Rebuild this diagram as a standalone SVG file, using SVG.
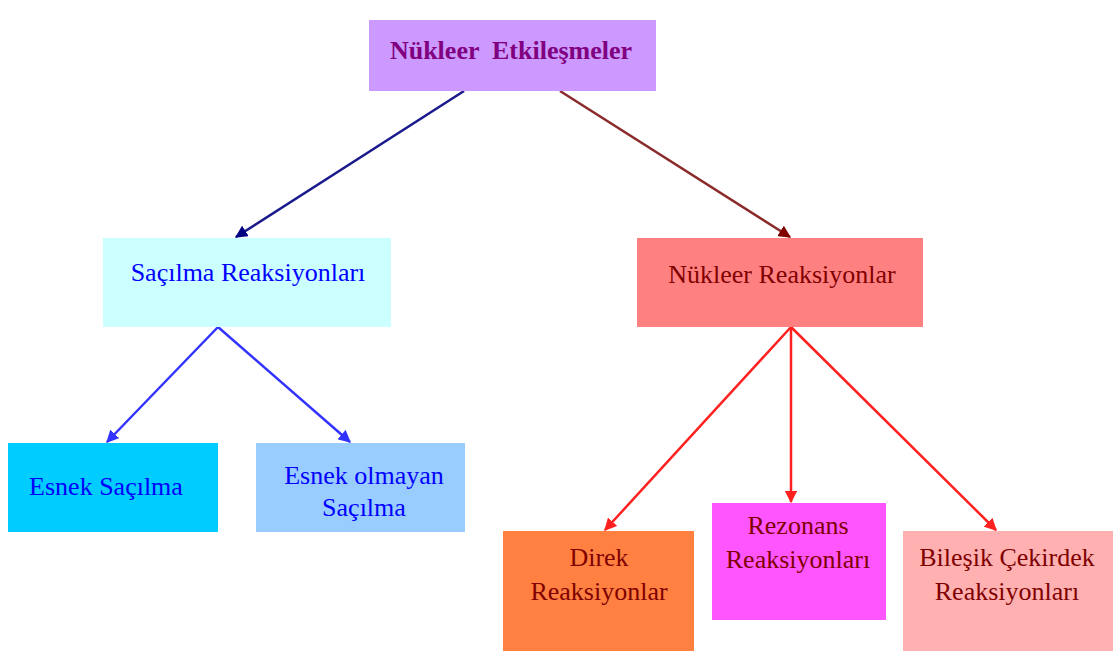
<svg xmlns="http://www.w3.org/2000/svg" width="1113" height="653" viewBox="0 0 1113 653">
<style>
text{font-family:"Liberation Serif","Times New Roman",serif;font-size:26px;text-anchor:middle}
.b{fill:#0000ff}.r{fill:#800000}
.c line{stroke-width:2.5}
</style>
<defs>
<marker id="an" viewBox="0 0 10 10" refX="9" refY="5" markerWidth="5" markerHeight="5" orient="auto"><path d="M0,0L10,5L0,10z" fill="#000080"/></marker>
<marker id="am" viewBox="0 0 10 10" refX="9" refY="5" markerWidth="5" markerHeight="5" orient="auto"><path d="M0,0L10,5L0,10z" fill="#800000"/></marker>
<marker id="ab" viewBox="0 0 10 10" refX="9" refY="5" markerWidth="5" markerHeight="5" orient="auto"><path d="M0,0L10,5L0,10z" fill="#3333ff"/></marker>
<marker id="ar" viewBox="0 0 10 10" refX="9" refY="5" markerWidth="5" markerHeight="5" orient="auto"><path d="M0,0L10,5L0,10z" fill="#ff2020"/></marker>
</defs>
<rect width="1113" height="653" fill="#ffffff"/>
<g class="c" id="connectors">
<line x1="464" y1="91" x2="236" y2="237" stroke="#1a1a8c" marker-end="url(#an)"/>
<line x1="560" y1="91" x2="790" y2="237" stroke="#8b2a2a" marker-end="url(#am)"/>
<line x1="218" y1="327" x2="107" y2="442" stroke="#3333ff" marker-end="url(#ab)"/>
<line x1="218" y1="327" x2="350" y2="442" stroke="#3333ff" marker-end="url(#ab)"/>
<line x1="791" y1="327" x2="605" y2="530" stroke="#ff2020" marker-end="url(#ar)"/>
<line x1="791" y1="327" x2="791" y2="502" stroke="#ff2020" marker-end="url(#ar)"/>
<line x1="791" y1="327" x2="996" y2="530" stroke="#ff2020" marker-end="url(#ar)"/>
</g>
<g id="n1"><rect x="369" y="20" width="287" height="71" fill="#cc99ff"/><text x="511" y="59" font-weight="bold" font-size="27" fill="#800080" xml:space="preserve">Nükleer  Etkileşmeler</text></g>
<g id="n2"><rect x="103" y="238" width="288" height="89" fill="#ccffff"/><text x="248" y="281" class="b">Saçılma Reaksiyonları</text></g>
<g id="n3"><rect x="637" y="238" width="286" height="89" fill="#ff8080"/><text x="782" y="283" class="r">Nükleer Reaksiyonlar</text></g>
<g id="n4"><rect x="8" y="443" width="210" height="89" fill="#00ccff"/><text x="106" y="495" class="b">Esnek Saçılma</text></g>
<g id="n5"><rect x="256" y="443" width="209" height="89" fill="#99ccff"/><text x="364" y="484" class="b">Esnek olmayan</text><text x="364" y="516" class="b">Saçılma</text></g>
<g id="n6"><rect x="503" y="531" width="191" height="120" fill="#ff8040"/><text x="599" y="566" class="r">Direk</text><text x="599" y="600" class="r">Reaksiyonlar</text></g>
<g id="n7"><rect x="712" y="503" width="174" height="117" fill="#ff55ff"/><text x="798" y="534" class="r">Rezonans</text><text x="798" y="568" class="r">Reaksiyonları</text></g>
<g id="n8"><rect x="903" y="531" width="210" height="120" fill="#ffb0b0"/><text x="1007" y="566" class="r">Bileşik Çekirdek</text><text x="1007" y="600" class="r">Reaksiyonları</text></g>
</svg>
